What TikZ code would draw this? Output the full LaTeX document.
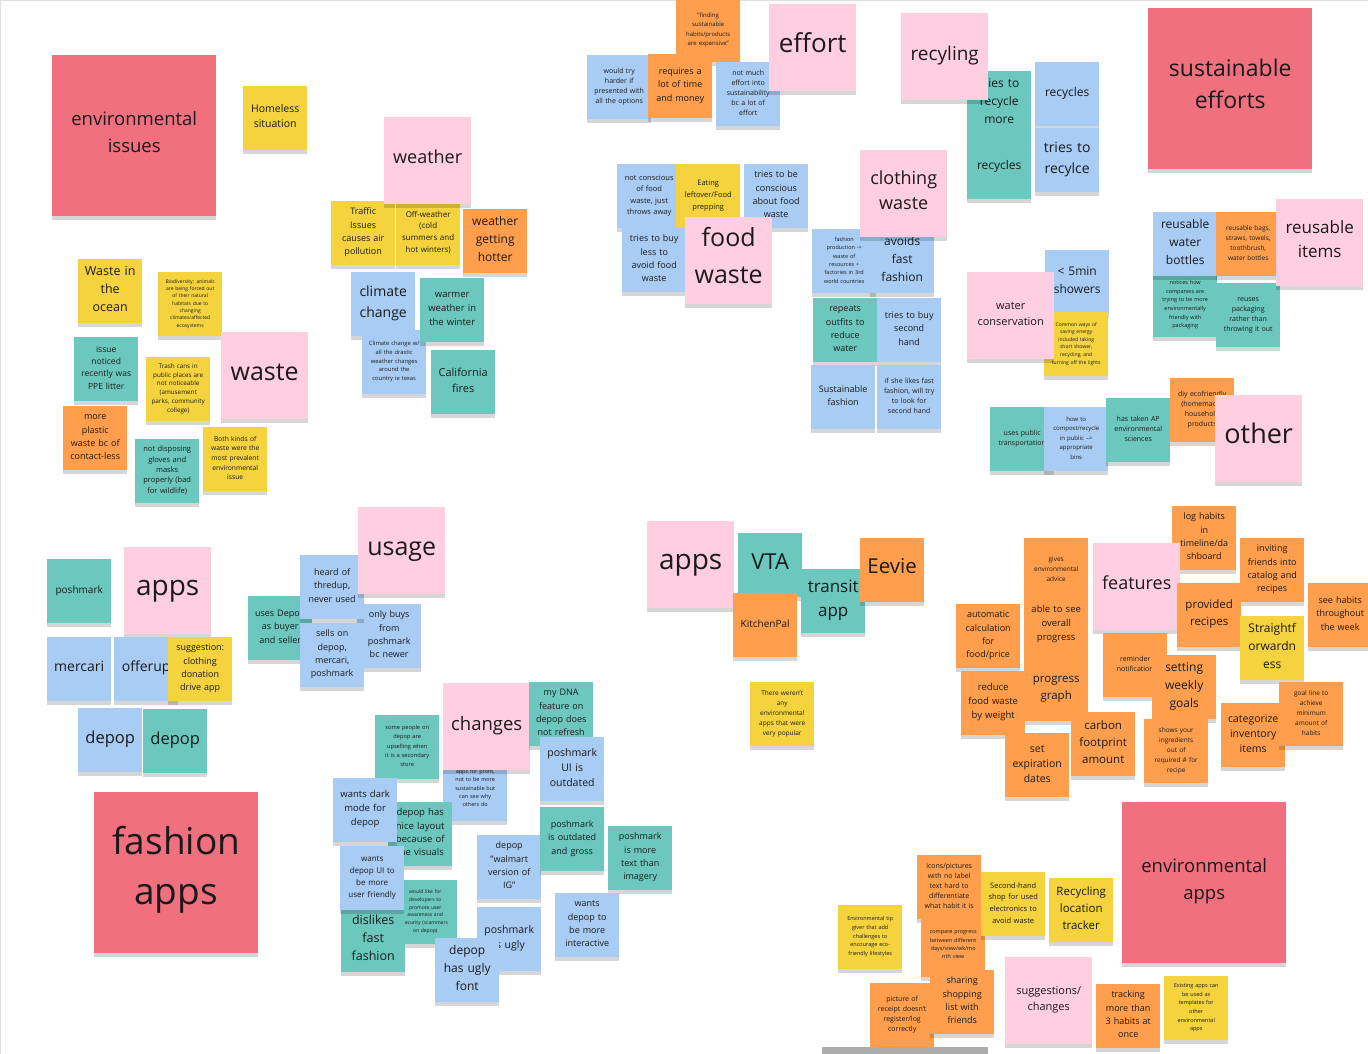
\documentclass[tikz,border=0pt]{standalone}
\usepackage{fontspec}
\setmainfont{Open Sans}
\usepackage{xcolor}
\usepackage{tikz}
\usetikzlibrary{shadows}
\definecolor{notered}{HTML}{F0707F}
\definecolor{notepink}{HTML}{FFCEE0}
\definecolor{noteyellow}{HTML}{F5D33F}
\definecolor{noteorange}{HTML}{FF9F4E}
\definecolor{noteteal}{HTML}{6CC8BF}
\definecolor{noteblue}{HTML}{A8CCF4}
\definecolor{ink}{HTML}{1A1A1A}
\newcommand{\notefont}[2]{\fontsize{#1}{#2}\selectfont}
\newcommand{\notestrut}{\rule[-0.4em]{0pt}{1.16em}}
\tikzstyle{note} = [rectangle, anchor=north west, minimum width=64pt, minimum height=64pt, text width=58pt, inner sep=0pt, align=center, text=ink, execute at begin node={\notestrut}, execute at end node={\notestrut}, drop shadow={shadow xshift=0pt, shadow yshift=-4pt, opacity=0.16, fill=black}]
\tikzstyle{topic} = [note, minimum width=87pt, minimum height=87pt, text width=80pt, fill=notepink]
\tikzstyle{theme} = [note, minimum width=164pt, minimum height=161pt, text width=150pt, fill=notered]

\begin{document}
\begin{tikzpicture}[x=1pt, y=-1pt]
    \tikzstyle{smalltext} = [font=\notefont{7}{10.2}]
    \tikzstyle{midtext} = [font=\notefont{9}{13.3}]
    \tikzstyle{bigtext} = [font=\notefont{12}{17.7}]

    \useasboundingbox (0,0) rectangle (1368,1054);
    \fill[white] (0,0) rectangle (1368,1054);
    \draw[gray!25, line width=1.2pt] (0.6,1054) -- (0.6,0.6) -- (1368,0.6);

    % environmental issues
    \node (envissues) [theme, font=\notefont{18.5}{27}] at (52,55) {environmental\\issues};
    \node (homeless) [note, fill=noteyellow, font=\notefont{10.5}{15}] at (243,86) {Homeless\\situation};
    \node (ocean) [note, fill=noteyellow, font=\notefont{12.5}{18}] at (78,259) {Waste in\\the\\ocean};
    \node (biodiversity) [note, fill=noteyellow, font=\notefont{5}{7.3}] at (158,272) {Biodiversity: animals\\are being forced out\\of their natural\\habitats due to\\changing\\climates/affected\\ecosystems};
    \node (ppe) [note, fill=noteteal, font=\notefont{8.5}{12.4}] at (74,337) {issue\\noticed\\recently was\\PPE litter};
    \node (trashcans) [note, fill=noteyellow, font=\notefont{6.3}{8.7}] at (146,357) {Trash cans in\\public places are\\not noticeable\\(amusement\\parks, community\\college)};
    \node (waste) [topic, font=\notefont{25}{30}] at (221,332) {waste};
    \node (plastic) [note, fill=noteorange, midtext] at (63,406) {more\\plastic\\waste bc of\\contact-less};
    \node (gloves) [note, fill=noteteal, font=\notefont{7.5}{10.3}] at (135,439) {not disposing\\gloves and\\masks\\properly (bad\\for wildlife)};
    \node (prevalent) [note, fill=noteyellow, font=\notefont{6.7}{9.7}] at (203,427) {Both kinds of\\waste were the\\most prevalent\\environmental\\issue};

    % weather
    \node (traffic) [note, fill=noteyellow, midtext] at (331,201) {Traffic\\Issues\\causes air\\pollution};
    \node (offweather) [note, fill=noteyellow, font=\notefont{8}{11.7}] at (396,201) {Off-weather\\(cold\\summers and\\hot winters)};
    \node (weather) [topic, font=\notefont{18}{25}] at (384,117) {weather};
    \node (hotter) [note, fill=noteorange, bigtext] at (463,209) {weather\\getting\\hotter};
    \node (climate) [note, fill=noteblue, font=\notefont{14}{20.7}] at (351,272) {climate\\change};
    \node (texas) [note, fill=noteblue, font=\notefont{5.8}{8.7}] at (362,330) {Climate change w/\\all the drastic\\weather changes\\around the\\country ie texas};
    \node (warmer) [note, fill=noteteal, font=\notefont{9.5}{14}] at (420,278) {warmer\\weather in\\the winter};
    \node (fires) [note, fill=noteteal, font=\notefont{11}{16}] at (431,350) {California\\fires};

    % effort
    \node (expensive) [note, fill=noteorange, font=\notefont{6}{9.5}] at (676,-2) {"finding\\sustainable\\habits/products\\are expensive"};
    \node (wouldtry) [note, fill=noteblue, smalltext] at (587,55) {would try\\harder if\\presented with\\all the options};
    \node (timemoney) [note, fill=noteorange, midtext] at (648,54) {requires a\\lot of time\\and money};
    \node (noteffort) [note, fill=noteblue, smalltext] at (716,62) {not much\\effort into\\sustainability\\bc a lot of\\effort};
    \node (effort) [topic, font=\notefont{26}{30}] at (769,4) {effort};

    % recycling
    \node (recyclemore) [note, fill=noteteal, bigtext] at (967,71) {tries to\\recycle\\more};
    \node (recyclesteal) [note, fill=noteteal, bigtext] at (967,135) {recycles};
    \node (recyclesblue) [note, fill=noteblue, bigtext] at (1035,62) {recycles};
    \node (recylce) [note, fill=noteblue, font=\notefont{14}{21}] at (1035,128) {tries to\\recylce};
    \node (recyling) [topic, font=\notefont{19}{25}] at (901,13) {recyling};

    % food waste
    \node (notconscious) [note, fill=noteblue, font=\notefont{7.5}{11.3}] at (617,164) {not conscious\\of food\\waste, just\\throws away};
    \node (eating) [note, fill=noteyellow, font=\notefont{7.5}{11.7}] at (676,164) {Eating\\leftover/Food\\prepping};
    \node (conscious) [note, fill=noteblue, midtext] at (744,164) {tries to be\\conscious\\about food\\waste};
    \node (buyless) [note, fill=noteblue, midtext] at (622,228) {tries to buy\\less to\\avoid food\\waste};
    \node (foodwaste) [topic, font=\notefont{25}{37}] at (685,217) {food\\waste};

    % clothing waste
    \node (production) [note, fill=noteblue, font=\notefont{5.5}{8.4}] at (812,229) {fashion\\production ->\\waste of\\resources +\\factories in 3rd\\world countries};
    \node (avoids) [note, fill=noteblue, bigtext] at (870,229) {avoids\\fast\\fashion};
    \node (clothing) [topic, font=\notefont{18}{25}] at (860,150) {clothing\\waste};
    \node (repeats) [note, fill=noteteal, midtext] at (813,298) {repeats\\outfits to\\reduce\\water};
    \node (secondhand) [note, fill=noteblue, midtext] at (877,298) {tries to buy\\second\\hand};
    \node (sustfashion) [note, fill=noteblue, midtext] at (811,365) {Sustainable\\fashion};
    \node (likesfast) [note, fill=noteblue, smalltext] at (877,365) {if she likes fast\\fashion, will try\\to look for\\second hand};

    % sustainable efforts
    \node (susteffort) [theme, font=\notefont{23}{32}] at (1148,8) {sustainable\\efforts};

    % reusable items
    \node (packaging) [note, fill=noteteal, font=\notefont{5.5}{8.7}] at (1153,273) {notices how\\companies are\\trying to be more\\environmentally\\friendly with\\packaging};
    \node (bottles) [note, fill=noteblue, bigtext] at (1153,212) {reusable\\water\\bottles};
    \node (bags) [note, fill=noteorange, font=\notefont{6.5}{10}] at (1216,212) {reusable bags,\\straws, towels,\\toothbrush,\\water bottles};
    \node (reuses) [note, fill=noteteal, smalltext] at (1216,283) {reuses\\packaging\\rather than\\throwing it out};
    \node (reusable) [topic, font=\notefont{17}{24}] at (1276,199) {reusable\\items};

    % water conservation
    \node (showers) [note, fill=noteblue, bigtext] at (1045,250) {< 5min\\showers};
    \node (commonways) [note, fill=noteyellow, font=\notefont{5}{7.6}] at (1044,312) {Common ways of\\saving energy\\included taking\\short shower,\\recycling, and\\turning off the lights};
    \node (waterconservation) [topic, font=\notefont{11}{15.5}] at (967,272) {water\\conservation};

    % other
    \node (transport) [note, fill=noteteal, smalltext] at (990,407) {uses public\\transportation};
    \node (compost) [note, fill=noteblue, font=\notefont{6}{9.5}] at (1044,407) {how to\\compost/recycle\\in public -->\\appropriate\\bins};
    \node (apscience) [note, fill=noteteal, smalltext] at (1106,398) {has taken AP\\environmental\\sciences};
    \node (diy) [note, fill=noteorange, smalltext] at (1170,378) {diy ecofriendly\\(homemade)\\household\\products};
    \node (other) [topic, font=\notefont{27}{30}] at (1215,395) {other};

    % fashion apps
    \node (poshmark) [note, fill=noteteal, font=\notefont{10}{14}] at (47,559) {poshmark};
    \node (appsfashion) [topic, font=\notefont{28}{30}] at (124,547) {apps};
    \node (mercari) [note, fill=noteblue, font=\notefont{14}{20}] at (47,637) {mercari};
    \node (offerup) [note, fill=noteblue, font=\notefont{14}{20}] at (114,637) {offerup};
    \node (donation) [note, fill=noteyellow, midtext] at (168,637) {suggestion:\\clothing\\donation\\drive app};
    \node (depopblue) [note, fill=noteblue, font=\notefont{16.5}{20}] at (78,708) {depop};
    \node (depopteal) [note, fill=noteteal, font=\notefont{16.5}{20}] at (143,709) {depop};
    \node (fashionapps) [theme, font=\notefont{37}{50}] at (94,792) {fashion\\apps};

    % usage
    \node (buyerseller) [note, fill=noteteal, midtext] at (248,596) {uses Depop\\as buyer\\and seller};
    \node (onlybuys) [note, fill=noteblue, midtext] at (357,604) {only buys\\from\\poshmark\\bc newer};
    \node (thredup) [note, fill=noteblue, midtext] at (300,555) {heard of\\thredup,\\never used};
    \node (sellson) [note, fill=noteblue, midtext] at (300,623) {sells on\\depop,\\mercari,\\poshmark};
    \node (usage) [topic, font=\notefont{25}{30}] at (358,507) {usage};

    % changes
    \node (upselling) [note, fill=noteteal, font=\notefont{5.7}{9.3}] at (375,715) {some people on\\depop are\\upselling when\\it is a secondary\\store};
    \node (forprofit) [note, fill=noteblue, font=\notefont{5.5}{8.3}] at (443,757) {apps for profit,\\not to be more\\sustainable but\\can see why\\others do};
    \node (changes) [topic, font=\notefont{18.5}{25}] at (443,683) {changes};
    \node (mydna) [note, fill=noteteal, midtext] at (529,682) {my DNA\\feature on\\depop does\\not refresh};
    \node (poshmarkui) [note, fill=noteblue, font=\notefont{10.5}{15}] at (540,737) {poshmark\\UI is\\outdated};
    \node (nicelayout) [note, fill=noteteal, font=\notefont{9.5}{13.3}] at (388,802) {depop has\\nice layout\\because of\\the visuals};
    \node (darkmode) [note, fill=noteblue, font=\notefont{9.5}{14}] at (333,778) {wants dark\\mode for\\depop};
    \node (developers) [note, fill=noteteal, font=\notefont{5}{7.7}] at (393,880) {would like for\\developers to\\promote user\\awareness and\\security (scammers\\on depop)};
    \node (dislikes) [note, fill=noteteal, font=\notefont{12.5}{18}] at (341,908) {dislikes\\fast\\fashion};
    \node (userfriendly) [note, fill=noteblue, font=\notefont{8}{12}] at (340,846) {wants\\depop UI to\\be more\\user friendly};
    \node (walmart) [note, fill=noteblue, midtext] at (477,835) {depop\\"walmart\\version of\\IG"};
    \node (outdatedgross) [note, fill=noteteal, midtext] at (540,807) {poshmark\\is outdated\\and gross};
    \node (moretext) [note, fill=noteteal, midtext] at (608,826) {poshmark\\is more\\text than\\imagery};
    \node (ugly) [note, fill=noteblue, font=\notefont{10.5}{15.5}] at (477,907) {poshmark\\is ugly};
    \node (uglyfont) [note, fill=noteblue, bigtext] at (435,938) {depop\\has ugly\\font};
    \node (interactive) [note, fill=noteblue, midtext] at (555,893) {wants\\depop to\\be more\\interactive};

    % apps
    \node (appsenv) [topic, font=\notefont{28}{30}] at (647,521) {apps};
    \node (vta) [note, fill=noteteal, font=\notefont{22}{26}] at (738,533) {VTA};
    \node (transit) [note, fill=noteteal, font=\notefont{17}{24}] at (801,569) {transit\\app};
    \node (kitchenpal) [note, fill=noteorange, font=\notefont{10}{14}] at (733,593) {KitchenPal};
    \node (eevie) [note, fill=noteorange, font=\notefont{20.5}{26}] at (860,538) {Eevie};
    \node (notpopular) [note, fill=noteyellow, font=\notefont{6.5}{10}] at (750,682) {There weren't\\any\\environmental\\apps that were\\very popular};

    % features
    \node (advice) [note, fill=noteorange, font=\notefont{6.5}{10}] at (1024,538) {gives\\environmental\\advice};
    \node (loghabits) [note, fill=noteorange, midtext] at (1172,506) {log habits\\in\\timeline/da\\shboard};
    \node (features) [topic, font=\notefont{18}{25}] at (1093,543) {features};
    \node (inviting) [note, fill=noteorange, midtext] at (1240,538) {inviting\\friends into\\catalog and\\recipes};
    \node (autocalc) [note, fill=noteorange, midtext] at (956,604) {automatic\\calculation\\for\\food/price};
    \node (overall) [note, fill=noteorange, font=\notefont{9.5}{14}] at (1024,593) {able to see\\overall\\progress};
    \node (recipes) [note, fill=noteorange, font=\notefont{11.5}{17}] at (1177,583) {provided\\recipes};
    \node (seehabits) [note, fill=noteorange, midtext] at (1308,583) {see habits\\throughout\\the week};
    \node (straightforward) [note, fill=noteyellow, bigtext] at (1240,616) {Straightf\\orwardn\\ess};
    \node (reminder) [note, fill=noteorange, smalltext] at (1103,633) {reminder\\notification};
    \node (weeklygoals) [note, fill=noteorange, bigtext] at (1152,655) {setting\\weekly\\goals};
    \node (graph) [note, fill=noteorange, font=\notefont{11.5}{17}] at (1024,657) {progress\\graph};
    \node (reducefood) [note, fill=noteorange, font=\notefont{9.5}{14}] at (961,671) {reduce\\food waste\\by weight};
    \node (carbon) [note, fill=noteorange, font=\notefont{11.5}{17}] at (1071,712) {carbon\\footprint\\amount};
    \node (ingredients) [note, fill=noteorange, font=\notefont{6.5}{10}] at (1144,719) {shows your\\ingredients\\out of\\required \# for\\recipe};
    \node (categorize) [note, fill=noteorange, font=\notefont{10.5}{15}] at (1221,703) {categorize\\inventory\\items};
    \node (goalline) [note, fill=noteorange, font=\notefont{6.5}{10}] at (1279,682) {goal line to\\achieve\\minimum\\amount of\\habits};
    \node (expiration) [note, fill=noteorange, font=\notefont{10.5}{15}] at (1005,733) {set\\expiration\\dates};

    % environmental apps
    \node (envapps) [theme, font=\notefont{18.5}{27}] at (1122,802) {environmental\\apps};
    \node (tipgiver) [note, fill=noteyellow, font=\notefont{5.5}{8.7}] at (838,905) {Environmental tip\\giver that add\\challenges to\\encourage eco-\\friendly lifestyles};
    \node (icons) [note, fill=noteorange, smalltext] at (917,855) {icons/pictures\\with no label\\text hard to\\differentiate\\what habit it is};
    \node (compare) [note, fill=noteorange, font=\notefont{5.5}{8.3}] at (921,913) {compare progress\\between different\\days/view/wk/mo\\nth view};
    \node (secondshop) [note, fill=noteyellow, font=\notefont{7.5}{11.7}] at (981,872) {Second-hand\\shop for used\\electronics to\\avoid waste};
    \node (tracker) [note, fill=noteyellow, font=\notefont{11.5}{17}] at (1049,878) {Recycling\\location\\tracker};
    \node (receipt) [note, fill=noteorange, smalltext] at (870,983) {picture of\\receipt doesn't\\register/log\\correctly};
    \node (sharing) [note, fill=noteorange, midtext] at (930,970) {sharing\\shopping\\list with\\friends};
    \node (suggestions) [topic, font=\notefont{11}{16}] at (1005,957) {suggestions/\\changes};
    \node (threehabits) [note, fill=noteorange, midtext] at (1096,984) {tracking\\more than\\3 habits at\\once};
    \node (templates) [note, fill=noteyellow, font=\notefont{5.5}{8.7}] at (1164,976) {Existing apps can\\be used as\\templates for\\other\\environmental\\apps};

    \fill[gray!65] (822,1047) rectangle (988,1054);

\end{tikzpicture}
\end{document}
